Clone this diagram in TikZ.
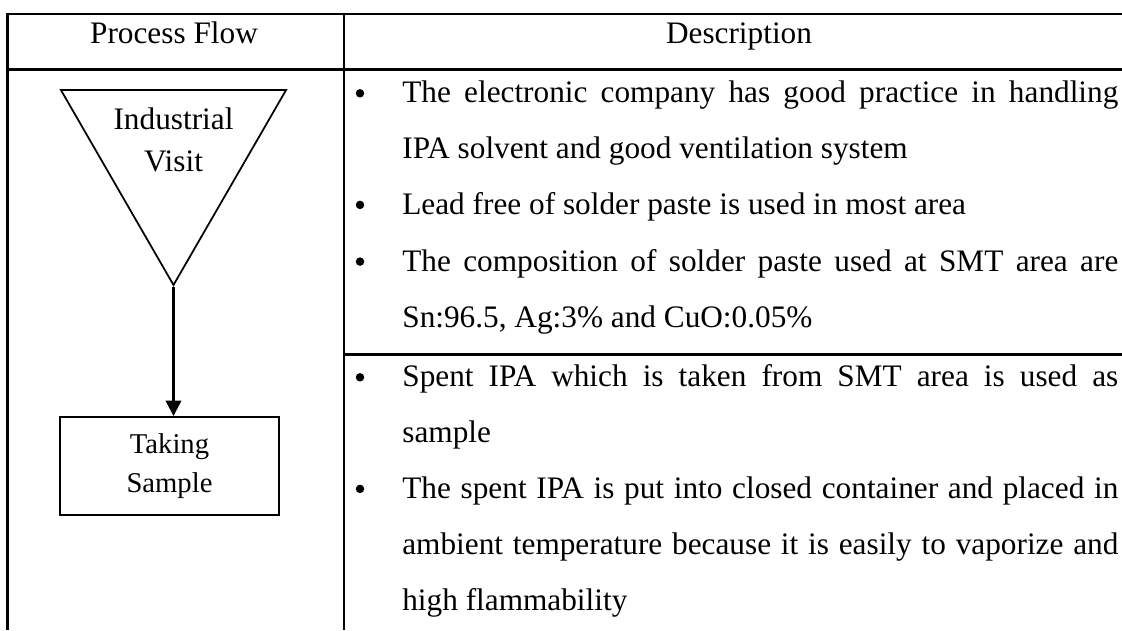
\documentclass[tikz,border=0pt]{standalone}
\usepackage{fontspec}
\setmainfont{Liberation Serif}
\usetikzlibrary{arrows, arrows.meta}
\usetikzlibrary{shapes.geometric}
\hyphenpenalty=10000
\emergencystretch=3em

\begin{document}
\begin{tikzpicture}[x=0.2mm, y=-0.2mm,
    rule/.style={line width=0.55mm},
    head/.style={anchor=base, inner sep=0pt, font=\fontsize{17.8}{21}\selectfont},
    desc/.style={anchor=base west, inner sep=0pt, text width=143.2mm, align=justify, font=\fontsize{17.8}{31.9}\selectfont},
    itemdot/.style={circle, fill, inner sep=0pt, minimum size=1.7mm}]
      \useasboundingbox (0,0) rectangle (1122,630);

      % table
      \draw[rule] (7.5,630) -- (7.5,14) -- (1122,14);
      \draw[rule] (7.5,69.5) -- (1122,69.5);
      \draw[rule] (344,14) -- (344,630);
      \draw[rule] (344,354.5) -- (1122,354.5);

      \node[head] (flow) at (174,43) {Process Flow};
      \node[head] (description) at (739,43) {Description};

      % process flow
      \node[regular polygon, regular polygon sides=3, shape border rotate=180, draw, line width=0.35mm, inner sep=0pt, minimum size=52mm] (visit) at (173.5,155) {};
      \node[align=center, inner sep=0pt, font=\fontsize{17.8}{23.7}\selectfont] (visittext) at (173.5,140) {Industrial\\Visit};
      \node[draw, line width=0.4mm, minimum width=43.8mm, minimum height=19.6mm, align=center, font=\fontsize{16.3}{21.8}\selectfont] (sample) at (169.5,466) {Taking\\Sample};

      \draw[line width=0.5mm, -{Triangle[length=3.1mm, width=3.1mm]}] (visit.corner 1) -- (visit.corner 1 |- sample.north);

      % description
      \node[itemdot] (v1) at (360,93.3) {};
      \node[itemdot] (v2) at (360,204.9) {};
      \node[itemdot] (v3) at (360,261.6) {};
      \node[itemdot] (s1) at (360,377.3) {};
      \node[itemdot] (s2) at (360,488.9) {};

      \node[desc] (visit1) at (402,102.7) {The electronic company has good practice in handling\linebreak IPA solvent and good ventilation system};
      \node[desc] (visit2) at (402,214.3) {Lead free of solder paste is used in most area};
      \node[desc] (visit3) at (402,271) {The composition of solder paste used at SMT area are\linebreak Sn:96.5, Ag:3\% and CuO:0.05\%};
      \node[desc] (sample1) at (402,386.7) {Spent IPA which is taken from SMT area is used as\linebreak sample};
      \node[desc] (sample2) at (402,498.3) {The spent IPA is put into closed container and placed in\linebreak ambient temperature because it is easily to vaporize and\linebreak high flammability};
    \end{tikzpicture}
\end{document}
